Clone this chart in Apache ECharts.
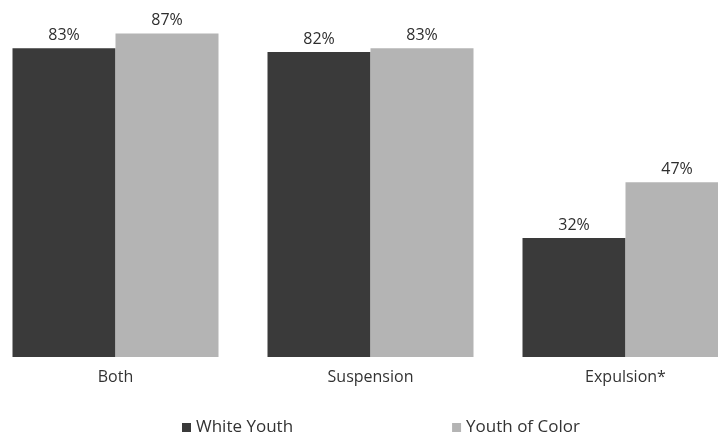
<!DOCTYPE html>
<html>
<head>
<meta charset="utf-8">
<script src="https://cdn.jsdelivr.net/npm/echarts@6/dist/echarts.min.js"></script>
<style>
  html, body { margin: 0; padding: 0; background: #fff; }
  #chart { width: 718px; height: 438px; }
</style>
</head>
<body>
<div id="chart"></div>
<script>
// Share of youth receiving each disciplinary outcome, by group
const categories = ['Both', 'Suspension', 'Expulsion*'];
const whiteYouth = [83, 82, 32];
const youthOfColor = [87, 83, 47];

const FONT = '"Open Sans", "Noto Sans", sans-serif';
const chart = echarts.init(document.getElementById('chart'));

const labelStyle = {
  show: true,
  position: 'top',
  distance: 5,
  formatter: p => p.value + '%',
  color: '#2e2e2e',
  fontFamily: FONT,
  fontSize: 16
};

chart.setOption({
  animation: false,
  backgroundColor: '#fff',
  grid: { left: -12, width: 765, top: 0, bottom: 81, outerBoundsMode: 'none' },
  xAxis: {
    type: 'category',
    data: categories,
    axisLine: { show: false },
    axisTick: { show: false },
    axisLabel: { color: '#333', fontFamily: FONT, fontSize: 16, margin: 12 }
  },
  yAxis: {
    type: 'value',
    min: 0,
    max: 96,
    show: false,
    splitLine: { show: false }
  },
  legend: {
    left: 177,
    top: 414,
    icon: 'rect',
    itemWidth: 9,
    itemHeight: 9,
    itemGap: 159,
    textStyle: { color: '#333', fontFamily: FONT, fontSize: 17 },
    data: ['White Youth', 'Youth of Color']
  },
  series: [
    {
      name: 'White Youth',
      type: 'bar',
      data: whiteYouth,
      barWidth: 103,
      barGap: '0%',
      itemStyle: { color: '#3a3a3a' },
      label: labelStyle
    },
    {
      name: 'Youth of Color',
      type: 'bar',
      data: youthOfColor,
      barWidth: 103,
      itemStyle: { color: '#b4b4b4' },
      label: labelStyle
    }
  ]
});
</script>
</body>
</html>
